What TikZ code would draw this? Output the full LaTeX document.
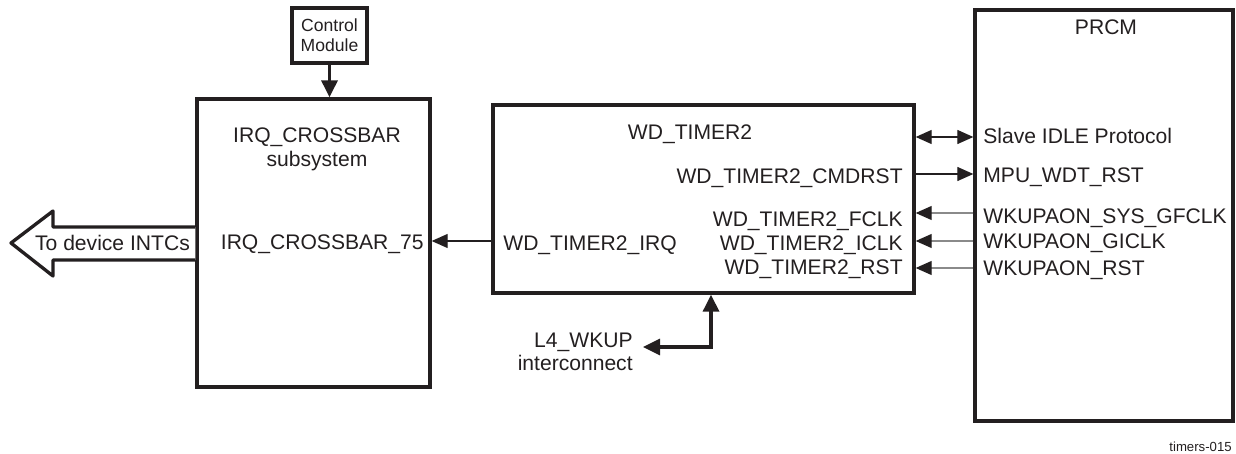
\documentclass[tikz,border=0pt]{standalone}
\usepackage{fontspec}
\setmainfont{Liberation Sans}
\usetikzlibrary{arrows.meta,positioning,calc}
\definecolor{inkgray}{HTML}{231F20}
\definecolor{wiregray}{HTML}{8A8A8A}

\begin{document}
\begin{tikzpicture}[>=Triangle,
  blk/.style={draw=inkgray,line width=1.9pt,inner sep=0pt,text=inkgray},
  lbl/.style={inner sep=0pt,text=inkgray,font=\fontsize{12}{13.4}\selectfont},
  sig/.style={-{Triangle[length=3.2mm,width=2.8mm]},line width=0.7pt,inkgray},
  bisig/.style={{Triangle[length=3.2mm,width=2.8mm]}-{Triangle[length=3.2mm,width=2.8mm]},line width=0.7pt,inkgray},
  clk/.style={-{Triangle[length=3.2mm,width=2.8mm,color=inkgray]},line width=0.6pt,wiregray},
  bus/.style={-{Triangle[length=3.4mm,width=3.2mm]},line width=1.9pt,inkgray},
  bibus/.style={{Triangle[length=3.4mm,width=3.2mm]}-{Triangle[length=3.4mm,width=3.2mm]},line width=1.9pt,inkgray}]

\useasboundingbox (0,0) rectangle (24.72,9.06);

% blocks
\node[blk,minimum width=1.5cm,minimum height=1.1cm,align=center,
  font=\fontsize{10}{11.4}\selectfont] (ctrl) at (6.59,8.35) {Control\\Module};
\node[blk,minimum width=4.66cm,minimum height=5.76cm] (xbar) at (6.27,4.20) {};
\node[blk,minimum width=8.42cm,minimum height=3.76cm] (wdt) at (14.07,5.08) {};
\node[blk,minimum width=5.16cm,minimum height=8.22cm] (prcm) at (22.08,4.75) {};

% crossbar texts
\node[lbl,anchor=base] (xbart) at (6.34,6.20) {IRQ\_CROSSBAR};
\node[lbl,anchor=base] (xbars) at (6.34,5.72) {subsystem};
\node[lbl,anchor=base east] (xbar75) at (8.48,4.08) {IRQ\_CROSSBAR\_75};

% wd timer texts
\node[lbl,anchor=base] (wdtt) at (13.80,6.26) {WD\_TIMER2};
\node[lbl,anchor=base east] (wdcmd) at (18.06,5.38) {WD\_TIMER2\_CMDRST};
\node[lbl,anchor=base east] (wdfclk) at (18.06,4.52) {WD\_TIMER2\_FCLK};
\node[lbl,anchor=base east] (wdiclk) at (18.06,4.06) {WD\_TIMER2\_ICLK};
\node[lbl,anchor=base east] (wdrst) at (18.06,3.58) {WD\_TIMER2\_RST};
\node[lbl,anchor=base west] (wdirq) at (10.06,4.06) {WD\_TIMER2\_IRQ};

% prcm texts
\node[lbl,anchor=base] (prcmt) at (22.12,8.36) {PRCM};
\node[lbl,anchor=base west] (sidle) at (19.66,6.18) {Slave IDLE Protocol};
\node[lbl,anchor=base west] (mpurst) at (19.66,5.40) {MPU\_WDT\_RST};
\node[lbl,anchor=base west] (sysclk) at (19.66,4.60) {WKUPAON\_SYS\_GFCLK};
\node[lbl,anchor=base west] (giclk) at (19.66,4.10) {WKUPAON\_GICLK};
\node[lbl,anchor=base west] (aonrst) at (19.66,3.56) {WKUPAON\_RST};

% interconnect
\node[lbl,anchor=base east] (l4) at (12.66,2.12) {L4\_WKUP};
\node[lbl,anchor=base east] (l4b) at (12.66,1.66) {interconnect};
\coordinate (l4end) at (12.86,2.12);
\coordinate (l4top) at (14.22,2.12);

\node[lbl,anchor=base east,font=\fontsize{7.5}{9}\selectfont] (fig) at (24.64,0.04) {timers-015};

% big arrow out of the crossbar
\draw[inkgray,line width=1.9pt,line join=round,fill=white]
  (xbar.west |- 0,4.52) -- (1.06,4.52) -- (1.06,4.84) -- (0.22,4.20)
  -- (1.06,3.54) -- (1.06,3.86) -- (xbar.west |- 0,3.86);
\node[lbl,anchor=base] (intc) at (2.25,4.06) {To device INTCs};

% connectors
\draw[bus] (ctrl.south) -- (ctrl.south |- xbar.north);
\draw[sig] (wdt.west |- 0,4.24) -- (xbar.east |- 0,4.24);
\draw[bisig] (wdt.east |- 0,6.32) -- (prcm.west |- 0,6.32);
\draw[sig] (wdt.east |- 0,5.58) -- (prcm.west |- 0,5.58);
\draw[clk] (prcm.west |- 0,4.80) -- (wdt.east |- 0,4.80);
\draw[clk] (prcm.west |- 0,4.24) -- (wdt.east |- 0,4.24);
\draw[clk] (prcm.west |- 0,3.70) -- (wdt.east |- 0,3.70);
\draw[bibus] (l4end) -- (l4top) -- (l4top |- wdt.south);
\end{tikzpicture}
\end{document}
